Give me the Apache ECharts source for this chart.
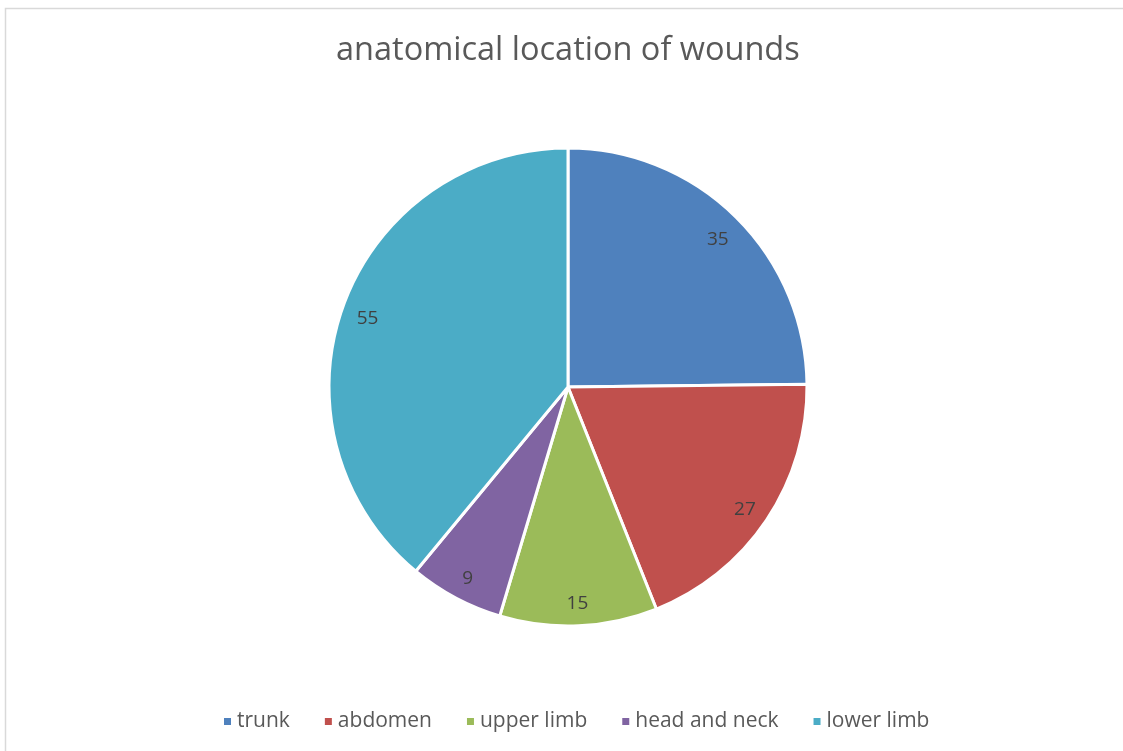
<!DOCTYPE html>
<html>
<head>
<meta charset="utf-8">
<script src="https://cdn.jsdelivr.net/npm/echarts@6/dist/echarts.min.js"></script>
<style>
html,body{margin:0;padding:0;background:#fff;}
#main{width:1123px;height:751px;}
</style>
</head>
<body>
<div id="main"></div>
<script>
const titleText = 'anatomical location of wounds';
const categories = ['trunk', 'abdomen', 'upper limb', 'head and neck', 'lower limb'];
const values = [35, 27, 15, 9, 55];
const colors = ['#4F81BD', '#C0504D', '#9BBB59', '#8064A2', '#4BACC6'];

const data = categories.map((c, i) => ({ name: c, value: values[i] }));
const chart = echarts.init(document.getElementById('main'));
chart.setOption({
  animation: false,
  color: colors,
  graphic: [{
    type: 'rect', shape: { x: 5.5, y: 8.5, width: 1200, height: 800 },
    style: { fill: 'none', stroke: '#d9d9d9', lineWidth: 1.5 }, silent: true
  }],
  title: {
    text: titleText, left: 331, top: 29,
    textStyle: { fontFamily: 'Open Sans', fontSize: 32.5, fontWeight: 'normal', color: '#595959' }
  },
  legend: {
    data: categories, bottom: 14, left: 217,
    icon: 'rect', itemWidth: 9, itemHeight: 9, itemGap: 33,
    textStyle: { fontFamily: 'Open Sans', fontSize: 21, color: '#595959' }
  },
  series: [{
    type: 'pie', center: [568, 387], radius: [0, 239], startAngle: 90, clockwise: true,
    data: data,
    itemStyle: { borderColor: '#fff', borderWidth: 3 },
    label: { show: false }, labelLine: { show: false },
    emphasis: { disabled: true }
  }, {
    type: 'pie', center: [568, 387], radius: [181, 239], startAngle: 90, clockwise: true,
    data: data, silent: true,
    itemStyle: { color: 'rgba(0,0,0,0)', borderWidth: 0 },
    label: { show: true, position: 'inside', formatter: '{c}', offset: [0, 4], fontFamily: 'Open Sans', fontSize: 19, color: '#404040' },
    labelLine: { show: false },
    emphasis: { disabled: true }
  }]
});
</script>
</body>
</html>
